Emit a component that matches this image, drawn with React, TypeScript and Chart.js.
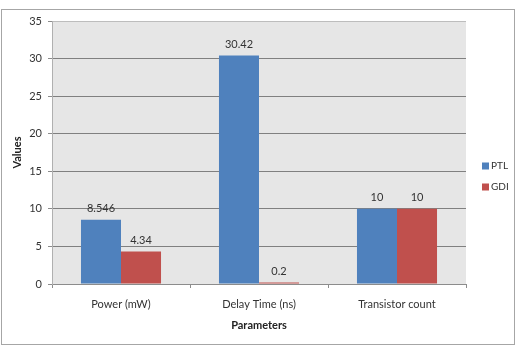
import React, { useEffect, useRef } from "react";
import { Chart, registerables } from "chart.js";

Chart.register(...registerables);

const categories = ["Power (mW)", "Delay Time (ns)", "Transistor count"];
const seriesNames = ["PTL", "GDI"];
const ptlValues = [8.546, 30.42, 10];
const gdiValues = [4.34, 0.2, 10];
const ptlLabels = ["8.546", "30.42", "10"];
const gdiLabels = ["4.34", "0.2", "10"];
const yMin = 0;
const yMax = 35;
const yStep = 5;

const FONT = "Lato, 'Liberation Sans', sans-serif";
const colors = ["#4F81BD", "#C0504D"];

const decorPlugin = {
  id: "decor",
  beforeDraw(chart: any) {
    const { ctx, chartArea, width, height } = chart;
    ctx.save();
    ctx.fillStyle = "#ffffff";
    ctx.fillRect(0, 0, width, height);
    ctx.strokeStyle = "#a6a6a6";
    ctx.lineWidth = 1;
    ctx.strokeRect(1.5, 9.5, 513, 335);
    ctx.fillStyle = "#e6e6e6";
    ctx.fillRect(chartArea.left, chartArea.top, chartArea.right - chartArea.left, chartArea.bottom - chartArea.top);
    ctx.restore();
  },
  afterDatasetsDraw(chart: any) {
    const { ctx } = chart;
    const labelSets = [ptlLabels, gdiLabels];
    ctx.save();
    ctx.fillStyle = "#333333";
    ctx.font = `11px ${FONT}`;
    ctx.textAlign = "center";
    ctx.textBaseline = "middle";
    chart.data.datasets.forEach((ds: any, di: number) => {
      const meta = chart.getDatasetMeta(di);
      meta.data.forEach((bar: any, i: number) => {
        ctx.fillText(labelSets[di][i], bar.x, bar.y - 11);
      });
    });
    ctx.restore();
  },
  afterDraw(chart: any) {
    const { ctx } = chart;
    ctx.save();
    ctx.font = `10px ${FONT}`;
    ctx.textBaseline = "middle";
    ctx.textAlign = "left";
    const ys = [166, 187];
    seriesNames.forEach((name, i) => {
      ctx.fillStyle = colors[i];
      ctx.fillRect(482, ys[i] - 3.5, 7, 7);
      ctx.fillStyle = "#333333";
      ctx.fillText(name, 491, ys[i]);
    });
    ctx.restore();
  },
};

export default function App() {
  const ref = useRef<HTMLCanvasElement>(null);
  useEffect(() => {
    document.body.style.margin = "0";
    const chart = new Chart(ref.current!, {
      type: "bar",
      data: {
        labels: categories,
        datasets: [
          {
            label: seriesNames[0],
            data: ptlValues,
            backgroundColor: colors[0],
            borderWidth: 0,
            categoryPercentage: 0.58,
            barPercentage: 1,
          },
          {
            label: seriesNames[1],
            data: gdiValues,
            backgroundColor: colors[1],
            borderWidth: 0,
            categoryPercentage: 0.58,
            barPercentage: 1,
          },
        ],
      },
      options: {
        animation: false,
        responsive: false,
        maintainAspectRatio: false,
        layout: { padding: { left: 0, right: 52, top: 21, bottom: 0 } },
        plugins: {
          legend: { display: false },
          tooltip: { enabled: false },
        },
        scales: {
          x: {
            afterFit: (s: any) => {
              s.height = 66;
            },
            grid: {
              drawOnChartArea: false,
              drawTicks: true,
              tickLength: 4,
              tickColor: "#8c8c8c",
              offset: true,
            },
            border: { color: "#8c8c8c", width: 1 },
            ticks: {
              color: "#333333",
              font: { family: FONT, size: 11 },
              padding: 10,
              maxRotation: 0,
            },
            title: {
              display: true,
              text: "Parameters",
              color: "#222222",
              font: { family: FONT, size: 11, weight: "bold" },
              padding: { top: 0, bottom: 18 },
            },
          },
          y: {
            min: yMin,
            max: yMax,
            afterFit: (s: any) => {
              s.width = 52;
            },
            ticks: {
              stepSize: yStep,
              color: "#333333",
              font: { family: FONT, size: 11 },
              padding: 6,
            },
            grid: {
              color: (c: any) => (c.tick && c.tick.value === yMax ? "#bdbdbd" : "#808080"),
              tickColor: "#8c8c8c",
              tickLength: 4,
            },
            border: { color: "#b0b0b0", width: 1 },
            title: {
              display: true,
              text: "Values",
              color: "#222222",
              font: { family: FONT, size: 11, weight: "bold" },
              padding: { top: 11, bottom: 0 },
            },
          },
        },
      },
      plugins: [decorPlugin],
    });
    return () => chart.destroy();
  }, []);
  return <canvas ref={ref} width={518} height={350} style={{ display: "block" }} />;
}
